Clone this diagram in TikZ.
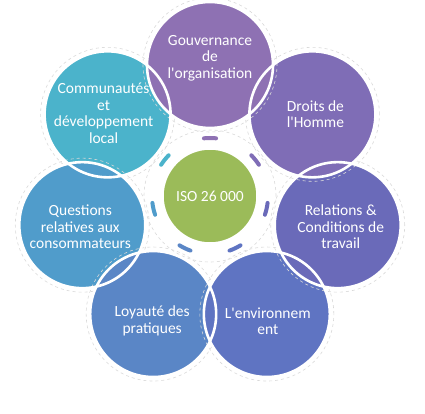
\documentclass[tikz,border=0pt]{standalone}
\usepackage{fontspec}
\setmainfont{Carlito}[Ligatures=TeXOff]
\usepackage{xcolor}
\usetikzlibrary{calc}
\definecolor{gouvC}{HTML}{8E71B3}
\definecolor{droitsC}{HTML}{7F6DB6}
\definecolor{relC}{HTML}{6A6AB9}
\definecolor{envC}{HTML}{5F74C2}
\definecolor{loyC}{HTML}{5A86C6}
\definecolor{questC}{HTML}{509CCB}
\definecolor{communC}{HTML}{4BB3CB}
\definecolor{isoC}{HTML}{9BBB59}
\tikzset{
  outer/.style={circle,inner sep=0pt,minimum size=126pt},
  faint/.style={dashed,gray!30,line width=0.6pt},
  lbl/.style={text=white,align=center,font=\fontsize{15.5}{16.5}\selectfont}
}

\begin{document}
\begin{tikzpicture}[x=1pt,y=1pt]
  \useasboundingbox (0,0) rectangle (425,413);
  \coordinate (c) at (210,217);
  \draw[faint] (c) circle[radius=66];
  % outer circles, filled first
  \foreach \a/\n/\col in {141.43/commun/communC,192.86/quest/questC,244.29/loy/loyC,
      295.71/env/envC,347.14/rel/relC,38.57/droits/droitsC,90/gouv/gouvC}{
    \draw[faint] ($(c)+(\a:131)$) circle[radius=67];
    \node[outer,fill=\col] (\n) at ($(c)+(\a:131)$) {};
  }
  \foreach \n in {commun,quest,loy,env,rel,droits,gouv}
    \draw[white,line width=2.6pt] (\n.center) circle[radius=63];
  % small marks round the centre
  \foreach \a/\col in {141.43/communC,192.86/questC,244.29/loyC,295.71/envC,
      347.14/relC,38.57/droitsC,90/gouvC}
    \draw[\col,line width=4pt,line cap=round] ($(c)+({\a-6}:58)$) arc[start angle=\a-6,end angle=\a+6,radius=58];
  \node[circle,fill=isoC,draw=white,line width=1.5pt,minimum size=94pt,lbl] (iso) at (c) {ISO 26 000};
  % texts
  \node[lbl] (t-gouv) at ($(gouv)+(0,7)$) {Gouvernance\\de\\l'organisation};
  \node[lbl] (t-droits) at ($(droits)+(3,0)$) {Droits de\\l'Homme};
  \node[lbl] (t-rel) at ($(rel)+(3,-2)$) {Relations \&\\Conditions de\\travail};
  \node[lbl] (t-env) at ($(env)+(1,-7)$) {L'environnem\\ent};
  \node[lbl] (t-loy) at ($(loy)+(-1,-7)$) {Loyauté des\\pratiques};
  \node[lbl] (t-quest) at ($(quest)+(-2,-2)$) {Questions\\relatives aux\\consommateurs};
  \node[lbl] (t-commun) at ($(commun)+(-4,1)$) {Communautés\\et\\développement\\local};
\end{tikzpicture}
\end{document}
